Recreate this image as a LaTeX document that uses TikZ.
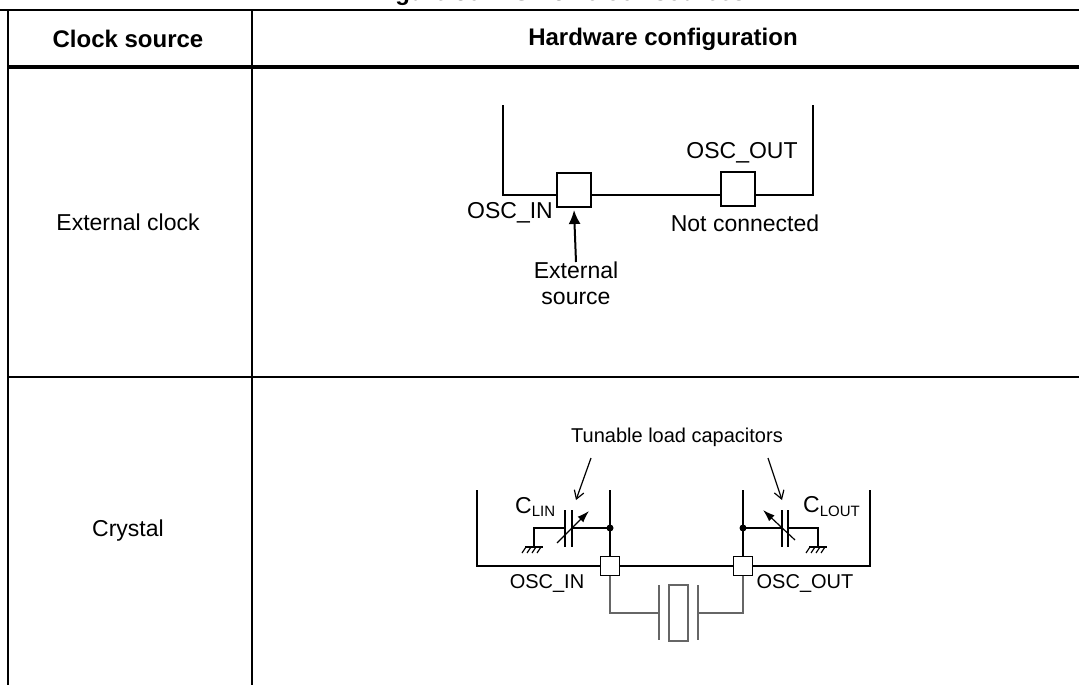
\documentclass[tikz,border=0pt]{standalone}
\usepackage{fontspec}
\setmainfont{Liberation Sans}
\usetikzlibrary{arrows.meta}

\tikzset{
  grid/.style={line width=1.8pt},
  hdr/.style={font=\fontsize{24}{26}\selectfont\bfseries},
  txt/.style={font=\fontsize{23}{26}\selectfont, inner sep=0pt},
  small/.style={font=\fontsize{20}{22}\selectfont, inner sep=0pt},
  wire/.style={line width=2.4pt},
  thin/.style={line width=1.2pt},
  gray wire/.style={line width=1.5pt, draw=black!60},
  pad/.style={draw, line width=1.4pt, fill=white, minimum size=#1, inner sep=0pt, outer sep=0pt},
}

\begin{document}
\begin{tikzpicture}[x=1pt,y=-1pt]
\useasboundingbox (0,0) rectangle (1079,685);

% title (cut off at the top)
\node[hdr, anchor=base] (title) at (560,1) {Figure 36. HSE 32 clock sources};

% table
\draw[grid] (0,10) -- (1079,10);
\draw[grid] (8,10) -- (8,685);
\draw[grid] (252,10) -- (252,685);
\draw[line width=4pt] (8,67) -- (1079,67);
\draw[grid] (8,377) -- (1079,377);

\node[hdr] (hsrc) at (128,39) {Clock source};
\node[hdr] (hcfg) at (663,39) {Hardware configuration};
\node[txt] (rowext) at (128,222) {External clock};
\node[txt] (rowxtal) at (128,531) {Crystal};

% External clock
\draw[wire] (503,105) -- (503,195) -- (813,195) -- (813,105);
\node[pad=34pt] (inpad) at (574,190) {};
\node[pad=34pt] (outpad) at (738,189) {};
\node[txt, anchor=east] (inlbl) at (553,213) {OSC\_IN};
\node[txt] (outlbl) at (742,153) {OSC\_OUT};
\node[txt] (nclbl) at (745,223) {Not connected};
\node[txt, align=center, anchor=north] (srclbl) at (576,262) {External\\source};
\draw[line width=2pt, -{Latex[length=14pt,width=12pt]}] (srclbl.north) -- ([yshift=-3pt]inpad.south);

% Crystal
\draw[wire] (477,490) -- (477,566) -- (870,566) -- (870,490);
\coordinate (jin) at (610,528);
\coordinate (jout) at (743,528);
\draw[thin] (610,490) -- (610,566);
\draw[thin] (743,490) -- (743,566);
\fill (jin) circle (3.5pt);
\fill (jout) circle (3.5pt);

% load capacitors
\draw[thin] (jin) -- (572,528) (565,528) -- (534,528) -- (534,547);
\draw[thin] (565,510) -- (565,547) (572,510) -- (572,547);
\draw[thin, -{Latex[length=12pt,width=8pt]}] (557,543) -- (589,511);
\draw[thin] (jout) -- (782,528) (788,528) -- (818,528) -- (818,547);
\draw[thin] (782,510) -- (782,547) (788,510) -- (788,547);
\draw[thin, -{Latex[length=12pt,width=8pt]}] (795,540) -- (763,510);
\foreach \gx in {534,818}{
  \draw[thin] (\gx-9,547) -- (\gx+9,547);
  \foreach \hx in {-8,-3,2,7}
    \draw[thin] (\gx+\hx,547) -- (\gx+\hx-4,553);
}
\node[txt, anchor=south west] (clin) at (515,517) {C\textsubscript{\fontsize{15}{16}\selectfont LIN}};
\node[txt, anchor=south west] (clout) at (803,517) {C\textsubscript{\fontsize{15}{16}\selectfont LOUT}};

\node[small] (tunlbl) at (677,437) {Tunable load capacitors};
\draw[thin, -{Straight Barb[length=8pt,width=10pt]}] (591,458) -- (576,500);
\draw[thin, -{Straight Barb[length=8pt,width=10pt]}] (768,458) -- (782,500);

\node[pad=19pt] (xin) at (610,566) {};
\node[pad=19pt] (xout) at (743,566) {};
\node[small] (xinlbl) at (547,583) {OSC\_IN};
\node[small] (xoutlbl) at (805,583) {OSC\_OUT};

% quartz
\draw[gray wire] (xin.south) |- (659,613);
\draw[gray wire] (xout.south) |- (698,613);
\draw[gray wire] (659,585) -- (659,640) (698,585) -- (698,640);
\draw[gray wire] (669,585) rectangle (688,641);
\end{tikzpicture}
\end{document}
